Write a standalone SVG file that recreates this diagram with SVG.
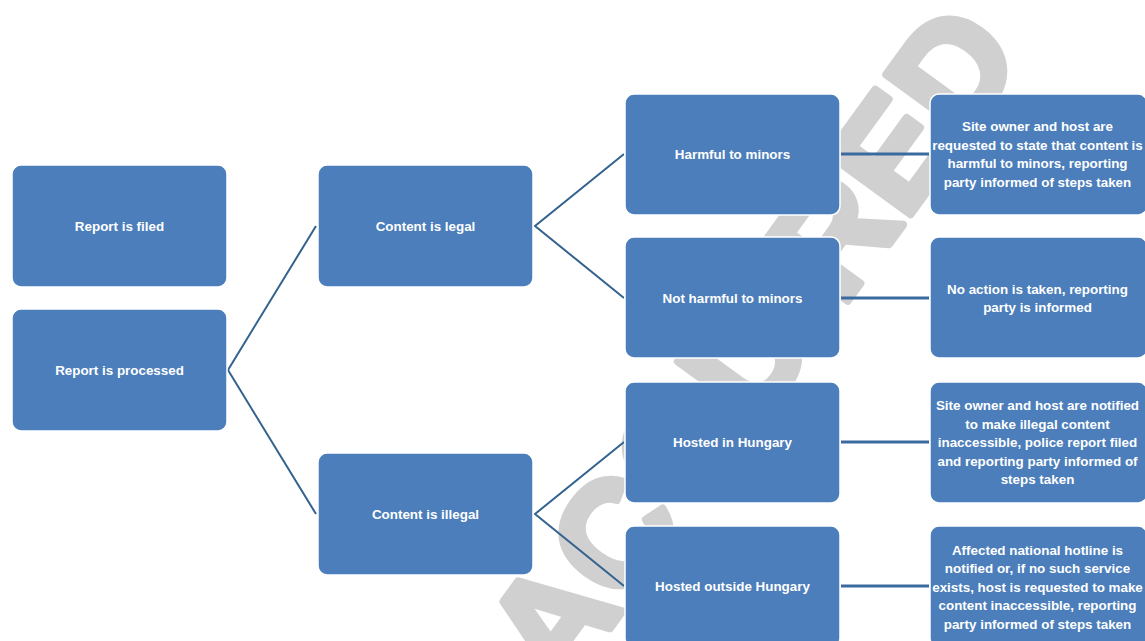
<svg xmlns="http://www.w3.org/2000/svg" width="1145" height="641" viewBox="0 0 1145 641">
<style>
.box{fill:#4b7ebb;stroke:#ffffff;stroke-width:1.5}
.t{font-family:"Liberation Sans",Arial,sans-serif;font-weight:bold;font-size:13.4px;fill:#ffffff;text-anchor:middle;dominant-baseline:central}
.d{stroke:#34628f;stroke-width:2;fill:none}
.h{stroke:#3b6aa0;stroke-width:3;fill:none}
.wm{font-family:"Liberation Sans",Arial,sans-serif;font-weight:bold;font-size:148px;fill:#d0d0d0;stroke:#d0d0d0;stroke-width:8;stroke-linejoin:round;text-anchor:middle;dominant-baseline:central}
</style>
<rect width="1145" height="641" fill="#ffffff"/>
<text class="wm" transform="translate(752,345) rotate(-54)">ACQUIRED</text>
<g id="connectors">
<path class="d" d="M316,226 L228,370 L316,514"/>
<path class="d" d="M624,154 L535,226 L624,298"/>
<path class="d" d="M624,442 L535,514 L624,586"/>
<line class="h" x1="841" y1="154" x2="929" y2="154"/>
<line class="h" x1="841" y1="298" x2="929" y2="298"/>
<line class="h" x1="841" y1="442" x2="929" y2="442"/>
<line class="h" x1="841" y1="586" x2="929" y2="586"/>
</g>
<g id="n-filed"><rect class="box" x="12" y="165" width="215" height="122" rx="9"/><text class="t" x="119.5" y="226">Report is filed</text></g>
<g id="n-processed"><rect class="box" x="12" y="309" width="215" height="122" rx="9"/><text class="t" x="119.5" y="370">Report is processed</text></g>
<g id="n-legal"><rect class="box" x="318" y="165" width="215" height="122" rx="9"/><text class="t" x="425.5" y="226">Content is legal</text></g>
<g id="n-illegal"><rect class="box" x="318" y="453" width="215" height="122" rx="9"/><text class="t" x="425.5" y="514">Content is illegal</text></g>
<g id="n-harmful"><rect class="box" x="625" y="94" width="215" height="121" rx="9"/><text class="t" x="732.5" y="154">Harmful to minors</text></g>
<g id="n-notharmful"><rect class="box" x="625" y="237" width="215" height="121" rx="9"/><text class="t" x="732.5" y="298">Not harmful to minors</text></g>
<g id="n-hu"><rect class="box" x="625" y="382" width="215" height="121" rx="9"/><text class="t" x="732.5" y="442">Hosted in Hungary</text></g>
<g id="n-outside"><rect class="box" x="625" y="526" width="215" height="121" rx="9"/><text class="t" x="732.5" y="586">Hosted outside Hungary</text></g>
<g id="r-harmful"><rect class="box" x="930" y="94" width="217" height="121" rx="9"/>
<text class="t"><tspan x="1037.5" y="126.3">Site owner and host are</tspan><tspan x="1037.5" y="144.8">requested to state that content is</tspan><tspan x="1037.5" y="163.3">harmful to minors, reporting</tspan><tspan x="1037.5" y="181.8">party informed of steps taken</tspan></text></g>
<g id="r-notharmful"><rect class="box" x="930" y="237" width="217" height="121" rx="9"/>
<text class="t"><tspan x="1037.5" y="288.5">No action is taken, reporting</tspan><tspan x="1037.5" y="307">party is informed</tspan></text></g>
<g id="r-hu"><rect class="box" x="930" y="382" width="217" height="121" rx="9"/>
<text class="t"><tspan x="1037.5" y="405">Site owner and host are notified</tspan><tspan x="1037.5" y="423.5">to make illegal content</tspan><tspan x="1037.5" y="442">inaccessible, police report filed</tspan><tspan x="1037.5" y="460.5">and reporting party informed of</tspan><tspan x="1037.5" y="479">steps taken</tspan></text></g>
<g id="r-outside"><rect class="box" x="930" y="526" width="217" height="121" rx="9"/>
<text class="t"><tspan x="1037.5" y="549.5">Affected national hotline is</tspan><tspan x="1037.5" y="568">notified or, if no such service</tspan><tspan x="1037.5" y="586.5">exists, host is requested to make</tspan><tspan x="1037.5" y="605">content inaccessible, reporting</tspan><tspan x="1037.5" y="623.5">party informed of steps taken</tspan></text></g>
</svg>
